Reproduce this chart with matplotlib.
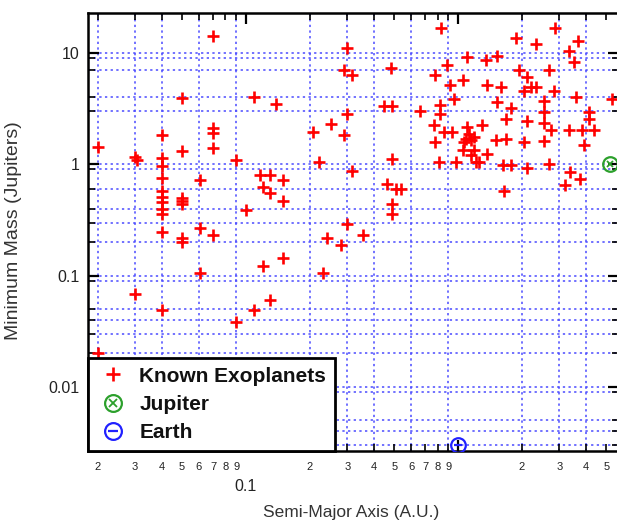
import matplotlib
matplotlib.use('Agg')
import matplotlib.pyplot as plt
from matplotlib.legend_handler import HandlerTuple
from matplotlib.ticker import FixedLocator, FixedFormatter
from matplotlib.font_manager import FontProperties

plt.rcParams['font.family'] = ['Liberation Sans', 'DejaVu Sans']

# ---- data (semi-major axis in AU, minimum mass in Jupiter masses) ----
semi_major_axis = [
    0.020, 0.030, 0.0305, 0.040, 0.040, 0.040, 0.040, 0.040, 0.040, 0.040,
    0.040, 0.040, 0.040, 0.050, 0.050, 0.050, 0.050, 0.050, 0.050, 0.050,
    0.061, 0.061, 0.061, 0.070, 0.070, 0.070, 0.070, 0.070, 0.090, 0.090,
    0.100, 0.109, 0.109, 0.117, 0.130, 0.150, 0.120, 0.130, 0.150, 0.150,
    0.120, 0.139, 0.130, 0.030, 0.040, 0.020, 0.207, 0.220, 0.231,
    0.300, 0.289, 0.316, 0.480, 0.446, 0.490, 0.660, 0.300, 0.252, 0.289,
    0.490, 0.316, 0.460, 0.510, 0.540, 0.490, 0.490, 0.300, 0.240, 0.280,
    0.355,
    0.83, 2.87, 1.87, 2.32, 3.66, 3.32, 3.51, 1.105, 1.35, 1.53,
    0.889, 0.78, 0.92, 1.05, 1.37, 1.59, 0.96, 1.53, 1.94, 2.12,
    2.69, 2.05, 2.20, 2.32, 2.84, 3.59, 5.30, 0.82, 0.82, 4.15,
    4.15, 1.77, 1.68, 2.55, 2.55, 2.12, 2.55, 2.73, 2.55, 2.05,
    1.68, 1.50, 1.30, 0.77, 0.86, 0.94, 0.775, 0.81, 0.98, 1.105,
    1.12, 1.085, 1.15, 1.06, 1.19, 1.05, 1.19, 1.15, 1.21, 1.25,
    1.37, 1.62, 1.77, 1.65, 2.12, 2.69, 3.34, 3.83, 4.35, 3.90,
    3.38, 3.76, 3.19,
]
min_mass = [
    1.43, 1.16, 1.09, 1.82, 1.13, 0.97, 0.75, 0.58, 0.51, 0.46,
    0.40, 0.36, 0.245, 3.93, 1.31, 0.50, 0.47, 0.44, 0.22, 0.20,
    0.72, 0.27, 0.106, 14.2, 2.11, 1.90, 1.39, 0.234, 1.09, 0.0385,
    0.39, 4.0, 0.049, 0.81, 0.81, 0.72, 0.62, 0.55, 0.47, 0.143,
    0.123, 3.47, 0.060, 0.069, 0.049, 0.020, 1.94, 1.06, 0.106,
    11.0, 7.0, 6.3, 7.4, 3.35, 3.35, 3.02, 2.82, 2.29, 1.85,
    1.11, 0.88, 0.66, 0.60, 0.60, 0.44, 0.36, 0.29, 0.22, 0.19,
    0.23,
    16.7, 16.9, 13.7, 12.0, 12.8, 10.4, 8.3, 9.3, 8.6, 9.4,
    7.8, 6.3, 5.2, 5.7, 5.15, 4.97, 3.9, 3.64, 7.0, 6.1,
    7.0, 4.55, 4.97, 4.97, 4.6, 4.04, 3.9, 3.4, 2.86, 2.96,
    2.58, 3.18, 2.58, 3.7, 2.96, 2.44, 2.37, 2.02, 1.61, 1.59,
    1.70, 1.64, 2.25, 2.25, 1.95, 1.95, 1.59, 1.05, 1.05, 2.17,
    1.89, 1.70, 1.64, 1.59, 1.76, 1.34, 1.34, 1.21, 1.05, 1.05,
    1.25, 0.98, 0.98, 0.58, 0.93, 1.01, 2.02, 2.02, 2.02, 1.48,
    0.85, 0.74, 0.65,
]
jupiter_a = [5.2]
jupiter_m = [1.0]
earth_a = [1.0]
earth_m = [0.003]

legend_labels = ['Known Exoplanets', 'Jupiter', 'Earth']
x_label = 'Semi-Major Axis (A.U.)'
y_label = 'Minimum Mass (Jupiters)'

x_major_ticks = [0.1, 1.0]
x_major_labels = ['0.1', '']
x_minor_ticks = [0.02, 0.03, 0.04, 0.05, 0.06, 0.07, 0.08, 0.09,
                 0.2, 0.3, 0.4, 0.5, 0.6, 0.7, 0.8, 0.9,
                 2, 3, 4, 5]
x_minor_labels = ['2', '3', '4', '5', '6', '7', '8', '9',
                  '2', '3', '4', '5', '6', '7', '8', '9',
                  '2', '3', '4', '5']
y_major_ticks = [0.01, 0.1, 1, 10]
y_major_labels = ['0.01', '0.1', '1', '10']

# grid lines visible in the reference
grid_x = [0.02, 0.03, 0.04, 0.06, 0.09, 0.2, 0.3, 0.4, 0.6, 0.9, 2, 3, 4]
grid_y = [0.003, 0.004, 0.005, 0.009, 0.01, 0.02, 0.03, 0.04, 0.05, 0.09, 0.1,
          0.2, 0.3, 0.4, 0.6, 0.9, 1, 3, 4, 7, 9, 10]

# ---- figure ----
W, H = 617, 523
fig = plt.figure(figsize=(W / 100, H / 100), dpi=100)
ax = fig.add_axes([88 / W, 72 / H, 531 / W, 438 / H])
ax.set_xscale('log')
ax.set_yscale('log')
ax.set_xlim(0.018, 5.73)
ax.set_ylim(0.00266, 22.9)

grid_color = '#4a4aff'
for gx in grid_x:
    ax.axvline(gx, color=grid_color, lw=1.1, ls=(0, (1.5, 2.2)), zorder=0.5)
for gy in grid_y:
    ax.axhline(gy, color=grid_color, lw=1.1, ls=(0, (1.5, 2.2)), zorder=0.5)

planets, = ax.plot(semi_major_axis, min_mass, linestyle='none', marker='+',
                   color='#ff0000', markersize=8.5, markeredgewidth=1.9, zorder=3)
jup_o, = ax.plot(jupiter_a, jupiter_m, linestyle='none', marker='o', markersize=10.5,
                 fillstyle='none', markeredgecolor='#2ca02c', markeredgewidth=1.6, zorder=4)
jup_x, = ax.plot(jupiter_a, jupiter_m, linestyle='none', marker='x', markersize=4.5,
                 color='#2ca02c', markeredgewidth=1.3, zorder=4)
earth_o, = ax.plot(earth_a, earth_m, linestyle='none', marker='o', markersize=10.5,
                   fillstyle='none', markeredgecolor='#2020ff', markeredgewidth=1.6, zorder=4)
earth_l, = ax.plot(earth_a, earth_m, linestyle='none', marker='_', markersize=6,
                   color='#2020ff', markeredgewidth=1.6, zorder=4)

# ticks
ax.xaxis.set_major_locator(FixedLocator(x_major_ticks))
ax.xaxis.set_major_formatter(FixedFormatter(x_major_labels))
ax.xaxis.set_minor_locator(FixedLocator(x_minor_ticks))
ax.xaxis.set_minor_formatter(FixedFormatter(x_minor_labels))
ax.yaxis.set_major_locator(FixedLocator(y_major_ticks))
ax.yaxis.set_major_formatter(FixedFormatter(y_major_labels))
ax.yaxis.set_minor_locator(FixedLocator([v for v in grid_y if v not in y_major_ticks]))
ax.yaxis.set_minor_formatter(FixedFormatter([]))

ax.tick_params(which='both', direction='in', top=True, right=True, colors='black',
               labelcolor='#222222')
ax.tick_params(which='major', length=8, width=1.6)
ax.tick_params(which='minor', length=5, width=1.2)
ax.tick_params(axis='x', which='minor', labelsize=8, pad=8)
ax.tick_params(axis='x', which='major', labelsize=11.5, pad=20)
ax.tick_params(axis='y', which='major', labelsize=11.5, pad=6)

for sp in ax.spines.values():
    sp.set_linewidth(1.8)
    sp.set_color('black')

ax.set_xlabel(x_label, fontsize=12.5, color='#333333')
ax.xaxis.set_label_coords(0.495, -0.123)
ax.set_ylabel(y_label, fontsize=14, color='#333333')
ax.yaxis.label.set_verticalalignment('center')
ax.yaxis.set_label_coords(-0.141, 0.502)

leg = ax.legend([planets, (jup_o, jup_x), (earth_o, earth_l)], legend_labels,
                handler_map={tuple: HandlerTuple(ndivide=1)},
                loc='lower left', bbox_to_anchor=(0, 0), borderaxespad=0,
                fancybox=False, framealpha=1, edgecolor='black',
                prop=FontProperties(family='Liberation Sans', weight='bold', size=15),
                markerscale=1.15,
                handlelength=1.6, handletextpad=0.45, borderpad=0.42, labelspacing=0.45)
leg.get_frame().set_linewidth(2)
leg.set_zorder(6)
for t in leg.get_texts():
    t.set_color('#111111')

fig.savefig('out.png', dpi=100)
